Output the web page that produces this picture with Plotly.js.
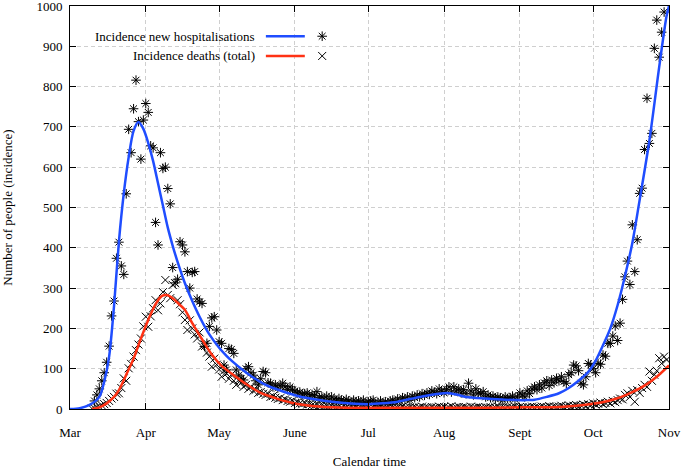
<!DOCTYPE html>
<html>
<head>
<meta charset="utf-8">
<script src="https://cdn.plot.ly/plotly-3.0.1.min.js"></script>
<style>html,body{margin:0;padding:0;background:#fff;}#chart{width:692px;height:469px;}</style>
</head>
<body>
<div id="chart"></div>
<script>
// ---- data (day 0 = 1 March) ----
const startDate = '2020-03-01';
const monthTickDays = [0, 31, 61, 92, 122, 153, 184, 214, 245];
const monthLabels = ['Mar', 'Apr', 'May', 'June', 'Jul', 'Aug', 'Sept', 'Oct', 'Nov'];
const yTicks = [0, 100, 200, 300, 400, 500, 600, 700, 800, 900, 1000];

// daily observed new hospitalisations, first value = day 10
const hospStartDay = 10;
const hospObserved = [
  20, 35, 50, 70, 90, 116, 156, 231, 268, 374,
  414, 355, 334, 534, 694, 636, 745, 816, 713, 620,
  717, 758, 736, 653, 648, 463, 407, 636, 597, 600,
  547, 509, 351, 313, 322, 415, 407, 390, 341, 300,
  339, 341, 273, 266, 262, 155, 163, 205, 226, 229,
  196, 167, 163, 109, 97, 150, 148, 138, 97, 84,
  76, 72, 100, 105, 90, 84, 70, 60, 75, 93,
  90, 65, 64, 55, 60, 52, 58, 64, 55, 48,
  55, 47, 45, 40, 42, 35, 38, 40, 30, 36,
  33, 43, 28, 30, 25, 32, 22, 30, 25, 20,
  26, 22, 18, 24, 20, 15, 22, 18, 20, 16,
  22, 14, 18, 20, 22, 12, 16, 20, 14, 18,
  15, 20, 22, 18, 25, 20, 28, 24, 30, 22,
  32, 28, 35, 30, 38, 34, 40, 36, 45, 42,
  38, 50, 44, 40, 48, 55, 42, 55, 45, 50,
  40, 48, 38, 64, 45, 35, 50, 40, 38, 43,
  30, 35, 28, 32, 25, 30, 28, 22, 30, 26,
  28, 32, 24, 30, 40, 35, 30, 45, 38, 50,
  55, 48, 60, 52, 65, 70, 58, 72, 65, 76,
  70, 80, 68, 64, 85, 90, 109, 107, 95, 64,
  60, 80, 113, 109, 100, 90, 113, 111, 134, 131,
  163, 163, 181, 206, 170, 213, 272, 328, 367, 309,
  457, 341, 420, 535, 548, 644, 771, 659, 684, 895,
  965, 873, 935, 985
];

// daily observed deaths, first value = day 9
const deathStartDay = 9;
const deathObserved = [
  1,
  2, 4, 6, 9, 12, 15, 20, 26, 30, 38,
  39, 52, 76, 70, 101, 112, 130, 146, 160, 175,
  205, 229, 204, 230, 250, 270, 245, 262, 290, 320,
  283, 275, 308, 312, 270, 260, 240, 221, 196, 220,
  200, 185, 175, 190, 155, 160, 140, 130, 105, 125,
  110, 98, 80, 95, 88, 75, 85, 70, 60, 72,
  65, 55, 60, 50, 55, 45, 48, 40, 42, 38,
  35, 38, 30, 32, 28, 25, 27, 22, 24, 20,
  18, 20, 15, 17, 14, 12, 15, 11, 12, 10,
  9, 11, 8, 9, 7, 8, 6, 8, 7, 5,
  6, 4, 7, 5, 3, 6, 4, 5, 3, 4,
  5, 3, 4, 2, 5, 3, 4, 6, 3, 2,
  4, 3, 5, 2, 4, 3, 6, 3, 2, 4,
  3, 5, 2, 4, 6, 3, 4, 2, 5, 3,
  4, 6, 3, 5, 2, 4, 7, 3, 4, 5,
  3, 5, 4, 2, 6, 3, 4, 5, 3, 2,
  4, 3, 5, 2, 4, 6, 3, 4, 2, 5,
  3, 4, 6, 3, 5, 4, 2, 5, 4, 6,
  4, 5, 3, 6, 4, 5, 7, 4, 6, 5,
  6, 8, 5, 7, 9, 6, 8, 10, 7, 9,
  11, 8, 12, 10, 14, 11, 13, 16, 12, 15,
  18, 14, 20, 17, 22, 26, 24, 35, 39, 30,
  45, 18, 47, 40, 52, 60, 55, 93, 70, 85,
  95, 126, 113, 130, 122
];

// fitted model curves (sampled)
const hospFitDays = [0, 4, 8, 12, 14, 16, 18, 20, 22, 24, 26, 28, 30, 32, 34, 36, 38, 40, 42, 44, 47, 50, 53, 57, 61, 64, 67, 70, 74, 80, 86, 94, 100, 110, 122, 128, 134, 143, 150, 154, 158, 162, 170, 178, 186, 190, 195, 200, 204, 208, 212, 215, 218, 221, 224, 227, 230, 233, 237, 241, 244, 245];
const hospFit = [0, 2, 10, 30, 68, 130, 255, 415, 535, 625, 690, 712, 695, 660, 615, 560, 505, 450, 405, 365, 312, 268, 229, 185, 152, 132, 115, 100, 82, 60, 46, 31, 24, 16, 12, 14, 18, 30, 37, 40, 36, 30, 26, 23, 22, 23, 30, 39, 52, 70, 92, 120, 158, 200, 258, 330, 412, 519, 667, 849, 975, 1000];

const deathFitDays = [9, 12, 15, 18, 20, 23, 26, 29, 32, 35, 37.5, 39.5, 42, 45, 47, 50, 54, 58, 62, 67, 72, 78, 84, 91, 100, 110, 130, 160, 180, 200, 207, 214, 220, 225, 230, 235, 240, 245];
const deathFit = [0, 4, 14, 30, 47, 85, 125, 175, 221, 260, 280, 283, 275, 258, 246, 213, 173, 135, 107, 84, 62, 40, 27, 15, 7, 4, 3, 3, 4, 5, 8, 13, 20, 29, 42, 58, 80, 108];

// ---- helpers ----
function dayToDate(d) {
  const t = new Date(startDate + 'T00:00:00Z').getTime() + d * 86400000;
  return new Date(t).toISOString().slice(0, 10) + (d % 1 ? ' 12:00' : '');
}
const hospDates = hospObserved.map((_, i) => dayToDate(hospStartDay + i));
const deathDates = deathObserved.map((_, i) => dayToDate(deathStartDay + i));

const BLUE = '#1f4dff';
const RED = '#ff3214';
const FONT = 'Liberation Serif, Times New Roman, serif';

const traces = [
  {x: hospDates, y: hospObserved, type: 'scatter', mode: 'markers',
   marker: {symbol: 'asterisk-open', size: 8, color: 'black', line: {color: 'black', width: 1}}, hoverinfo: 'skip'},
  {x: deathDates, y: deathObserved, type: 'scatter', mode: 'markers',
   marker: {symbol: 'x-thin-open', size: 8, color: 'black', line: {color: 'black', width: 1}}, hoverinfo: 'skip'},
  {x: hospFitDays.map(dayToDate), y: hospFit, type: 'scatter', mode: 'lines',
   line: {color: BLUE, width: 2.5, shape: 'spline', smoothing: 0.8}},
  {x: deathFitDays.map(dayToDate), y: deathFit, type: 'scatter', mode: 'lines',
   line: {color: RED, width: 2.5, shape: 'spline', smoothing: 0.8}},
  // legend sample symbols (on hidden paper-like axes)
  {x: [0.421], y: [0.925], xaxis: 'x2', yaxis: 'y2', type: 'scatter', mode: 'markers',
   marker: {symbol: 'asterisk-open', size: 8, color: 'black', line: {color: 'black', width: 1}}, hoverinfo: 'skip'},
  {x: [0.421], y: [0.876], xaxis: 'x2', yaxis: 'y2', type: 'scatter', mode: 'markers',
   marker: {symbol: 'x-thin-open', size: 8, color: 'black', line: {color: 'black', width: 1}}, hoverinfo: 'skip'}
];

const layout = {
  width: 692, height: 469,
  margin: {l: 70, r: 23, t: 6, b: 60},
  paper_bgcolor: '#fff', plot_bgcolor: '#fff',
  showlegend: false,
  font: {family: FONT, size: 13, color: 'black'},
  xaxis: {
    type: 'date',
    range: [dayToDate(0), dayToDate(245)],
    tickvals: monthTickDays.map(dayToDate),
    ticktext: monthLabels,
    ticks: 'inside', ticklen: 6, tickcolor: 'black', mirror: 'ticks',
    showline: true, linecolor: 'black', linewidth: 1,
    showgrid: true, gridcolor: '#cfcfcf', griddash: '4px,3px', gridwidth: 1,
    zeroline: false,
    ticklabelstandoff: 11,
    ticklabeloverflow: 'allow',
    title: {text: 'Calendar time', standoff: 24, font: {family: FONT, size: 13}}
  },
  yaxis: {
    range: [0, 1000],
    tickvals: yTicks,
    ticks: 'inside', ticklen: 6, tickcolor: 'black', mirror: 'ticks',
    showline: true, linecolor: 'black', linewidth: 1,
    showgrid: true, gridcolor: '#cfcfcf', griddash: '4px,3px', gridwidth: 1,
    zeroline: false,
    ticklabelstandoff: 4,
    ticklabeloverflow: 'allow',
    title: {text: 'Number of people (incidence)', standoff: 24, font: {family: FONT, size: 13}}
  },
  xaxis2: {overlaying: 'x', range: [0, 1], visible: false, fixedrange: true},
  yaxis2: {overlaying: 'y', range: [0, 1], visible: false, fixedrange: true},
  shapes: [
    {type: 'line', xref: 'paper', yref: 'paper', x0: 0.327, x1: 0.392, y0: 0.925, y1: 0.925, line: {color: BLUE, width: 2.5}},
    {type: 'line', xref: 'paper', yref: 'paper', x0: 0.327, x1: 0.392, y0: 0.876, y1: 0.876, line: {color: RED, width: 2.5}}
  ],
  annotations: [
    {xref: 'paper', yref: 'paper', x: 0.312, y: 0.925, xanchor: 'right', yanchor: 'middle', showarrow: false,
     text: 'Incidence new hospitalisations', font: {family: FONT, size: 13}},
    {xref: 'paper', yref: 'paper', x: 0.312, y: 0.876, xanchor: 'right', yanchor: 'middle', showarrow: false,
     text: 'Incidence deaths (total)', font: {family: FONT, size: 13}}
  ]
};

Plotly.newPlot('chart', traces, layout, {staticPlot: true, displayModeBar: false});
</script>
</body>
</html>
